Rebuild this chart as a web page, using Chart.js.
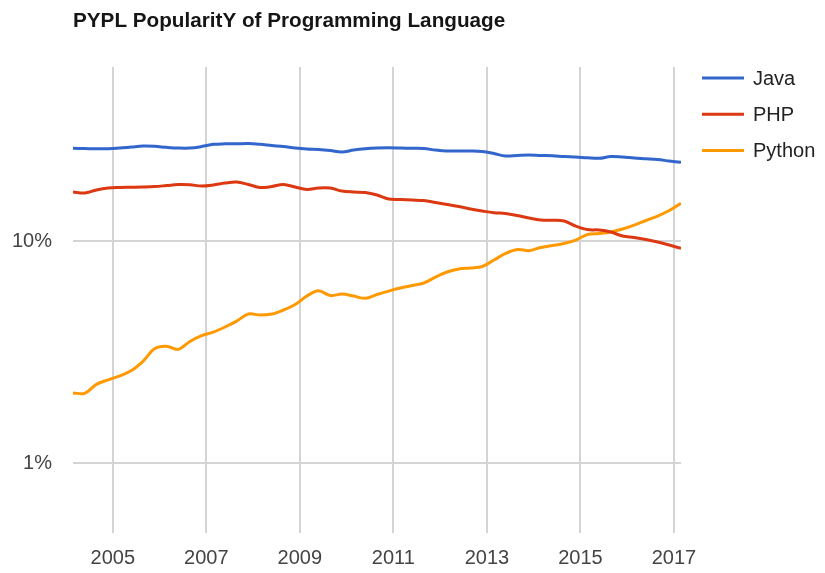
<!DOCTYPE html>
<html>
<head>
<meta charset="utf-8">
<script src="https://cdn.jsdelivr.net/npm/chart.js@4.4.1/dist/chart.umd.min.js"></script>
<style>
  html, body { margin: 0; padding: 0; background: #ffffff; }
  #wrap { width: 825px; height: 573px; position: relative; }
</style>
</head>
<body>
<div id="wrap"><canvas id="c" width="825" height="573"></canvas></div>
<script>
const chartTitle = "PYPL PopularitY of Programming Language";
const seriesNames = ["Java", "PHP", "Python"];
const seriesColors = ["#3366cc", "#dc3912", "#ff9900"];

// quarterly samples (decimal years)
const dates = [2004.15, 2004.40, 2004.65, 2004.90, 2005.15, 2005.40, 2005.65, 2005.90,
  2006.15, 2006.40, 2006.65, 2006.90, 2007.15, 2007.40, 2007.65, 2007.90,
  2008.15, 2008.40, 2008.65, 2008.90, 2009.15, 2009.40, 2009.65, 2009.90,
  2010.15, 2010.40, 2010.65, 2010.90, 2011.15, 2011.40, 2011.65, 2011.90,
  2012.15, 2012.40, 2012.65, 2012.90, 2013.15, 2013.40, 2013.65, 2013.90,
  2014.15, 2014.40, 2014.65, 2014.90, 2015.15, 2015.40, 2015.65, 2015.90,
  2016.15, 2016.40, 2016.65, 2016.90, 2017.15];

// share of searches, %
const java = [26.15, 26.10, 26.02, 26.04, 26.23, 26.51, 26.78, 26.70,
  26.42, 26.23, 26.23, 26.64, 27.26, 27.40, 27.43, 27.48,
  27.26, 26.92, 26.64, 26.23, 25.96, 25.83, 25.56, 25.17,
  25.69, 26.04, 26.23, 26.31, 26.23, 26.15, 26.10, 25.69,
  25.43, 25.43, 25.43, 25.30, 24.78, 24.15, 24.28, 24.40,
  24.28, 24.23, 24.03, 23.90, 23.70, 23.58, 24.03, 23.90,
  23.65, 23.48, 23.29, 22.93, 22.62];

const php = [16.63, 16.46, 16.98, 17.33, 17.42, 17.46, 17.51, 17.60,
  17.78, 17.97, 17.93, 17.69, 17.88, 18.25, 18.44, 17.97,
  17.42, 17.60, 17.97, 17.51, 17.06, 17.33, 17.33, 16.80,
  16.63, 16.54, 16.12, 15.46, 15.38, 15.30, 15.22, 14.91,
  14.60, 14.30, 13.94, 13.65, 13.41, 13.30, 13.03, 12.70,
  12.44, 12.40, 12.31, 11.68, 11.26, 11.21, 10.98, 10.53,
  10.37, 10.16, 9.90, 9.59, 9.27];

const python = [2.07, 2.06, 2.26, 2.37, 2.47, 2.61, 2.88, 3.28,
  3.36, 3.25, 3.53, 3.75, 3.89, 4.10, 4.36, 4.69,
  4.64, 4.69, 4.89, 5.18, 5.65, 5.97, 5.68, 5.77,
  5.65, 5.52, 5.74, 5.95, 6.14, 6.30, 6.47, 6.88,
  7.25, 7.48, 7.56, 7.68, 8.21, 8.79, 9.16, 9.05,
  9.35, 9.54, 9.74, 10.10, 10.70, 10.81, 10.98, 11.33,
  11.80, 12.37, 12.96, 13.72, 14.79];

const yearTicks = [2005, 2007, 2009, 2011, 2013, 2015, 2017];
const percentTicks = [1, 10];

const seriesValues = [java, php, python];
const datasets = seriesNames.map((name, i) => ({
  label: name,
  data: dates.map((d, j) => ({ x: d, y: seriesValues[i][j] })),
  borderColor: seriesColors[i],
  backgroundColor: seriesColors[i],
  borderWidth: 3,
  pointRadius: 0,
  pointHoverRadius: 0,
  tension: 0.35,
  fill: false
}));

const FONT = "'Liberation Sans', Arial, sans-serif";

const titlePlugin = {
  id: 'titlePlugin',
  afterDraw(chart) {
    const ctx = chart.ctx;
    ctx.save();
    ctx.font = "bold 20.7px " + FONT;
    ctx.fillStyle = "#151515";
    ctx.textAlign = "left";
    ctx.textBaseline = "middle";
    ctx.fillText(chartTitle, chart.chartArea.left, 21);
    ctx.restore();
  }
};

const legendPlugin = {
  id: 'legendPlugin',
  afterDraw(chart) {
    const ctx = chart.ctx;
    ctx.save();
    ctx.font = "20px " + FONT;
    ctx.textAlign = "left";
    ctx.textBaseline = "middle";
    chart.data.datasets.forEach((ds, i) => {
      const y = 78 + i * 36.3;
      ctx.strokeStyle = ds.borderColor;
      ctx.lineWidth = 3;
      ctx.beginPath();
      ctx.moveTo(702, y);
      ctx.lineTo(744, y);
      ctx.stroke();
      ctx.fillStyle = "#222222";
      ctx.fillText(ds.label, 753, y + 1);
    });
    ctx.restore();
  }
};

new Chart(document.getElementById('c'), {
  type: 'line',
  data: { datasets },
  plugins: [titlePlugin, legendPlugin],
  options: {
    responsive: false,
    animation: false,
    events: [],
    layout: { padding: { top: 67, right: 144, left: 0, bottom: 0 } },
    plugins: {
      legend: { display: false },
      title: { display: false },
      tooltip: { enabled: false }
    },
    scales: {
      x: {
        type: 'linear',
        min: 2004.15,
        max: 2017.15,
        afterBuildTicks: (scale) => { scale.ticks = yearTicks.map(v => ({ value: v })); },
        afterFit: (scale) => { scale.height = 40; },
        grid: { color: '#d4d4d4', lineWidth: 2, drawTicks: false },
        border: { display: false },
        ticks: {
          font: { size: 20, family: FONT },
          color: '#444444',
          padding: 13,
          maxRotation: 0,
          autoSkip: false,
          callback: (v) => String(v)
        }
      },
      y: {
        type: 'logarithmic',
        min: 0.484,
        max: 60.8,
        afterBuildTicks: (scale) => { scale.ticks = percentTicks.map(v => ({ value: v })); },
        afterFit: (scale) => { scale.width = 73; },
        grid: { color: '#d4d4d4', lineWidth: 2, drawTicks: false },
        border: { display: false },
        ticks: {
          font: { size: 20, family: FONT },
          color: '#444444',
          padding: 21,
          autoSkip: false,
          callback: (v) => v + '%'
        }
      }
    }
  }
});
</script>
</body>
</html>
